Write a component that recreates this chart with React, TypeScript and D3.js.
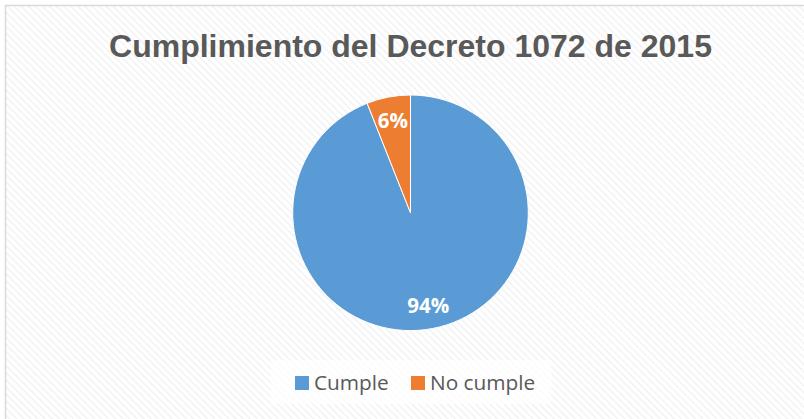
import React, { useEffect } from "react";
import * as d3 from "d3";

const categories = ["Cumple", "No cumple"];
const values = [94, 6];
const labels = ["94%", "6%"];
const colors = ["#5B9BD5", "#ED7D31"];
const title = "Cumplimiento del Decreto 1072 de 2015";

const W = 804;
const H = 419;
const cx = 410.5;
const cy = 212.8;
const R = 117.8;

export default function App() {
  useEffect(() => {
    document.body.style.margin = "0";
  }, []);

  const pie = d3.pie<number>().sort(null).value((d) => d)(values);
  const arc = d3.arc<d3.PieArcDatum<number>>().innerRadius(0).outerRadius(R);
  const labelArc = d3
    .arc<d3.PieArcDatum<number>>()
    .innerRadius(R * 0.8)
    .outerRadius(R * 0.8);

  const legendX = [295, 411];

  return (
    <svg width={W} height={H} style={{ display: "block" }}>
      <defs>
        <pattern
          id="hatch"
          width="5"
          height="5"
          patternUnits="userSpaceOnUse"
          patternTransform="rotate(-45)"
        >
          <rect width="5" height="5" fill="#ffffff" />
          <line x1="0" y1="0" x2="0" y2="5" stroke="#f0f0f0" strokeWidth="2.5" />
        </pattern>
      </defs>
      <rect x={0} y={0} width={W} height={H} fill="#ffffff" />
      <rect x={5.5} y={5.5} width={W + 10} height={H + 10} fill="url(#hatch)" stroke="#d9d9d9" strokeWidth={1.5} />
      <text
        x={410.5}
        y={57}
        textAnchor="middle"
        fontFamily="'Liberation Sans', Arial, sans-serif"
        fontWeight="bold"
        fontSize={32}
        fill="#595959"
      >
        {title}
      </text>
      <g transform={`translate(${cx},${cy})`}>
        {pie.map((p, i) => (
          <path key={categories[i]} d={arc(p) || ""} fill={colors[i]} stroke="#ffffff" strokeWidth={1} />
        ))}
        {pie.map((p, i) => {
          const [x, y] = labelArc.centroid(p);
          return (
            <text
              key={"l" + i}
              x={x}
              y={y}
              dy="0.36em"
              textAnchor="middle"
              fontFamily="'Open Sans', sans-serif"
              fontWeight="bold"
              fontSize={20.5}
              fill="#ffffff"
            >
              {labels[i]}
            </text>
          );
        })}
      </g>
      <rect x={271} y={360} width={280} height={44} fill="#ffffff" opacity={0.7} />
      {categories.map((c, i) => (
        <g key={"lg" + i}>
          <rect x={legendX[i]} y={376} width={14} height={14} fill={colors[i]} />
          <text
            x={legendX[i] + 19}
            y={389.5}
            fontFamily="'Open Sans', sans-serif"
            fontSize={20.8}
            fill="#595959"
          >
            {c}
          </text>
        </g>
      ))}
    </svg>
  );
}
